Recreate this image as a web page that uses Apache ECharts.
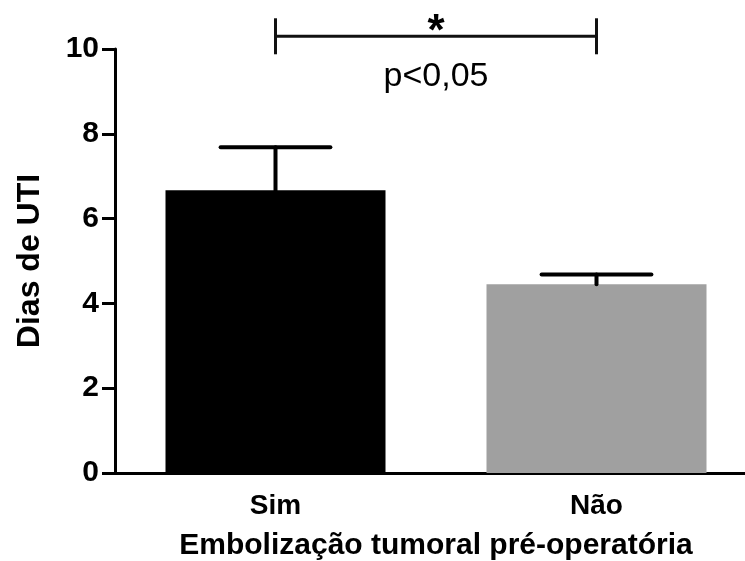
<!DOCTYPE html>
<html>
<head>
<meta charset="utf-8">
<script src="https://cdn.jsdelivr.net/npm/echarts@6/dist/echarts.min.js"></script>
<style>
  html, body { margin: 0; padding: 0; background: #fff; }
  #chart { width: 745px; height: 561px; }
</style>
</head>
<body>
<div id="chart"></div>
<script>
// data
var categories = ['Sim', 'Não'];
var means = [6.67, 4.45];
var errTop = [7.68, 4.68];
var barColors = ['#000000', '#a0a0a0'];
var sigPair = [0, 1];
var sigLevel = 10.3;
var sigStar = '*';
var sigText = 'p<0,05';

var font = "'Liberation Sans', Arial, sans-serif";

var chart = echarts.init(document.getElementById('chart'));

var option = {
    animation: false,
    grid: {
        left: 115,
        right: -12,
        top: 49,
        bottom: 88,
        containLabel: false,
        outerBoundsMode: 'none'
    },
    xAxis: {
        type: 'category',
        data: categories,
        name: 'Embolização tumoral pré-operatória',
        nameLocation: 'middle',
        nameGap: 58,
        nameTextStyle: {
            color: '#000',
            fontFamily: font,
            fontWeight: 'bold',
            fontSize: 30
        },
        axisLine: { lineStyle: { color: '#000', width: 3 } },
        axisTick: { alignWithLabel: true, length: 12, lineStyle: { color: '#000', width: 3 } },
        axisLabel: {
            margin: 19,
            color: '#000',
            fontFamily: font,
            fontWeight: 'bold',
            fontSize: 28
        }
    },
    yAxis: {
        type: 'value',
        min: 0,
        max: 10,
        interval: 2,
        name: 'Dias de UTI',
        nameLocation: 'middle',
        nameGap: 69,
        nameTextStyle: {
            color: '#000',
            fontFamily: font,
            fontWeight: 'bold',
            fontSize: 32
        },
        axisLine: { show: true, lineStyle: { color: '#000', width: 3 } },
        axisTick: { show: true, length: 13, lineStyle: { color: '#000', width: 3 } },
        axisLabel: {
            margin: 16,
            color: '#000',
            fontFamily: font,
            fontWeight: 'bold',
            fontSize: 30
        },
        splitLine: { show: false }
    },
    series: [
        {
            type: 'bar',
            barWidth: 220,
            data: means.map(function (v, i) {
                return { value: v, itemStyle: { color: barColors[i] } };
            })
        },
        {
            // error bars (upper only)
            type: 'custom',
            z: 5,
            data: means.map(function (v, i) { return [i, v, errTop[i]]; }),
            renderItem: function (params, api) {
                var base = api.coord([api.value(0), api.value(1)]);
                var top = api.coord([api.value(0), api.value(2)]);
                var half = api.size([1, 0])[0] * 0.171;
                var style = { stroke: '#000', lineWidth: 4, lineCap: 'round' };
                return {
                    type: 'group',
                    children: [
                        { type: 'line', shape: { x1: base[0], y1: base[1], x2: top[0], y2: top[1] }, style: style },
                        { type: 'line', shape: { x1: top[0] - half, y1: top[1], x2: top[0] + half, y2: top[1] }, style: style }
                    ]
                };
            }
        },
        {
            // significance bracket
            type: 'custom',
            clip: false,
            data: [[sigPair[0], sigPair[1], sigLevel]],
            renderItem: function (params, api) {
                var a = api.coord([api.value(0), api.value(2)]);
                var b = api.coord([api.value(1), api.value(2)]);
                var mid = (a[0] + b[0]) / 2;
                var style = { stroke: '#111', lineWidth: 3 };
                return {
                    type: 'group',
                    children: [
                        { type: 'line', shape: { x1: a[0], y1: a[1], x2: b[0], y2: b[1] }, style: style },
                        { type: 'line', shape: { x1: a[0], y1: a[1] - 18, x2: a[0], y2: a[1] + 18 }, style: style },
                        { type: 'line', shape: { x1: b[0], y1: b[1] - 18, x2: b[0], y2: b[1] + 18 }, style: style },
                        {
                            type: 'text',
                            style: {
                                text: sigStar, x: mid, y: a[1] + 19,
                                align: 'center', verticalAlign: 'bottom',
                                fill: '#000', font: 'bold 44px ' + font
                            }
                        },
                        {
                            type: 'text',
                            style: {
                                text: sigText, x: mid, y: a[1] + 40,
                                align: 'center', verticalAlign: 'middle',
                                fill: '#000', font: '34px ' + font
                            }
                        }
                    ]
                };
            }
        }
    ]
};

chart.setOption(option);
</script>
</body>
</html>
